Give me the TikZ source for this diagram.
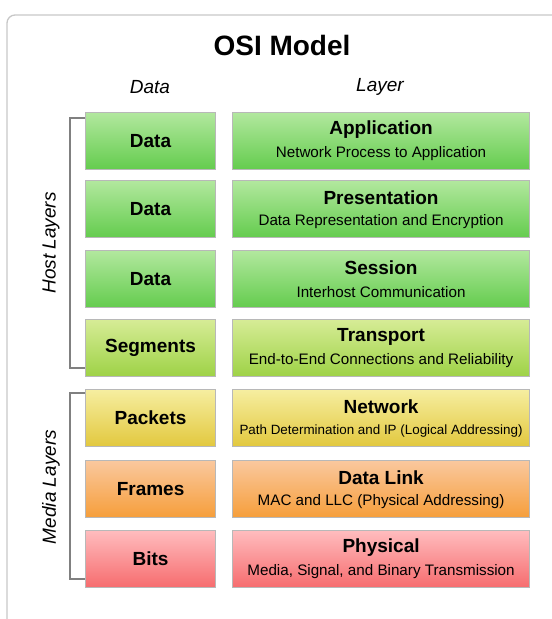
\documentclass[tikz,border=0pt]{standalone}
\usepackage{fontspec}
\setmainfont{Liberation Sans}
\begin{document}
\begin{tikzpicture}[x=1pt,y=-1pt,
  box/.style={draw=black!28, line width=1.1pt, minimum height=57pt, anchor=north west, inner sep=0pt},
  dbox/.style={box, minimum width=130pt, font=\fontsize{19}{22}\selectfont\bfseries},
  lbox/.style={box, minimum width=297pt},
  ttl/.style={font=\fontsize{19}{22}\selectfont\bfseries, inner sep=0pt},
  sub/.style={font=\fontsize{15.2}{17}\selectfont, inner sep=0pt},
  subsmall/.style={font=\fontsize{13.4}{16}\selectfont, inner sep=0pt},
  hdr/.style={font=\fontsize{19}{22}\selectfont\itshape, inner sep=0pt},
  brk/.style={draw=black!50, line width=1.2pt},
  green/.style={top color={rgb,255:red,178;green,232;blue,158}, bottom color={rgb,255:red,100;green,204;blue,78}},
  seg/.style={top color={rgb,255:red,214;green,236;blue,150}, bottom color={rgb,255:red,158;green,210;blue,70}},
  pkt/.style={top color={rgb,255:red,246;green,238;blue,160}, bottom color={rgb,255:red,226;green,200;blue,62}},
  frm/.style={top color={rgb,255:red,250;green,200;blue,158}, bottom color={rgb,255:red,246;green,158;blue,58}},
  bit/.style={top color={rgb,255:red,255;green,188;blue,190}, bottom color={rgb,255:red,246;green,108;blue,110}},
]
\useasboundingbox (0,0) rectangle (552,619);
\draw[black!22, line width=1.3pt, rounded corners=8pt] (7,619) -- (7,15) -- (552,15);

\node[font=\fontsize{28}{32}\selectfont\bfseries, inner sep=0pt] (title) at (282,45) {OSI Model};
\node[hdr] (hd) at (150,87) {Data};
\node[hdr] (hl) at (380,87) {Layer};

% data column
\node[dbox, green] (D7) at (85,112) {Data};
\node[dbox, green] (D6) at (85,180) {Data};
\node[dbox, green] (D5) at (85,250) {Data};
\node[dbox, seg]   (D4) at (85,319) {Segments};
\node[dbox, pkt]   (D3) at (85,389) {Packets};
\node[dbox, frm]   (D2) at (85,460) {Frames};
\node[dbox, bit]   (D1) at (85,530) {Bits};

% layer column
\node[lbox, green] (L7) at (232,112) {};
\node[lbox, green] (L6) at (232,180) {};
\node[lbox, green] (L5) at (232,250) {};
\node[lbox, seg]   (L4) at (232,319) {};
\node[lbox, pkt]   (L3) at (232,389) {};
\node[lbox, frm]   (L2) at (232,460) {};
\node[lbox, bit]   (L1) at (232,530) {};

\path (L7.north) ++(0,18) node[ttl] (t7) {Application} ++(0,24) node[sub] (s7) {Network Process to Application};
\path (L6.north) ++(0,18) node[ttl] (t6) {Presentation} ++(0,24) node[sub] (s6) {Data Representation and Encryption};
\path (L5.north) ++(0,18) node[ttl] (t5) {Session} ++(0,24) node[sub] (s5) {Interhost Communication};
\path (L4.north) ++(0,18) node[ttl] (t4) {Transport} ++(0,24) node[sub] (s4) {End-to-End Connections and Reliability};
\path (L3.north) ++(0,18) node[ttl] (t3) {Network} ++(0,24) node[subsmall] (s3) {Path Determination and IP (Logical Addressing)};
\path (L2.north) ++(0,18) node[ttl] (t2) {Data Link} ++(0,24) node[sub] (s2) {MAC and LLC (Physical Addressing)};
\path (L1.north) ++(0,18) node[ttl] (t1) {Physical} ++(0,24) node[sub] (s1) {Media, Signal, and Binary Transmission};

% brackets
\coordinate (h1) at (70,118);
\coordinate (h2) at (70,368);
\coordinate (m1) at (70,393);
\coordinate (m2) at (70,579);
\draw[brk] (D7.west |- h1) -- (h1) -- (h2) -- (D4.west |- h2);
\draw[brk] (D3.west |- m1) -- (m1) -- (m2) -- (D1.west |- m2);

\node[hdr, rotate=90] (host) at (51,243) {Host Layers};
\node[hdr, rotate=90] (media) at (51,487) {Media Layers};
\end{tikzpicture}
\end{document}
